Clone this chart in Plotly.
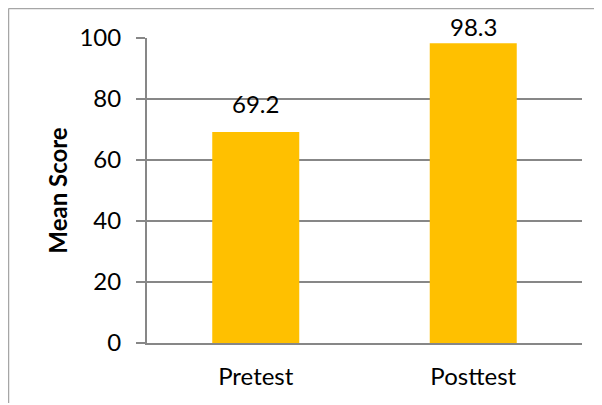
import plotly.graph_objects as go

categories = ["Pretest", "Posttest"]
mean_scores = [69.2, 98.3]
y_ticks = [0, 20, 40, 60, 80, 100]

FONT = "Lato"
GRID = "#878787"
FS = 24

fig = go.Figure(go.Bar(
    x=categories, y=mean_scores,
    marker=dict(color="#FFC000", line=dict(width=0)),
    width=0.4,
    cliponaxis=False,
))

label_shift = [12, 0]
for c, v, s in zip(categories, mean_scores, label_shift):
    fig.add_annotation(x=c, y=v, text=f"{v:.1f}", showarrow=False,
                       yanchor="bottom", yshift=s,
                       font=dict(family=FONT, size=FS, color="black"))

# page body has an 8px default margin, so the figure starts at (8, 8)
W, H = 594, 397
L, R, T, B = 139, 20, 30, 62
pw, ph = W - L - R, H - T - B

fig.update_layout(
    width=W, height=H,
    margin=dict(l=L, r=R, t=T, b=B),
    plot_bgcolor="white", paper_bgcolor="white",
    showlegend=False,
    font=dict(family=FONT, size=FS, color="black"),
    xaxis=dict(showline=True, linecolor=GRID, linewidth=2, ticks="",
               showgrid=False, tickfont=dict(size=FS), ticklabelstandoff=11),
    yaxis=dict(range=[0, 100], tickvals=y_ticks, showgrid=True, gridcolor=GRID,
               gridwidth=2, showline=True, linecolor=GRID, linewidth=2,
               ticks="outside", ticklen=9, tickwidth=2, tickcolor=GRID,
               tickfont=dict(size=FS), ticklabelstandoff=10, zeroline=False,
               title=dict(text="<b>Mean Score</b>", font=dict(size=FS), standoff=5)),
    shapes=[
        dict(type="line", xref="paper", yref="paper",
             x0=(0.5 - L) / pw, x1=(W - L) / pw, y0=(H - B - 0.5) / ph, y1=(H - B - 0.5) / ph,
             line=dict(color="#A6A6A6", width=1.5)),
        dict(type="line", xref="paper", yref="paper",
             x0=(0.5 - L) / pw, x1=(0.5 - L) / pw, y0=(H - B - 0.5) / ph, y1=-(B - 2) / ph,
             line=dict(color="#A6A6A6", width=1.5)),
    ],
)

fig.write_html("out.html")
